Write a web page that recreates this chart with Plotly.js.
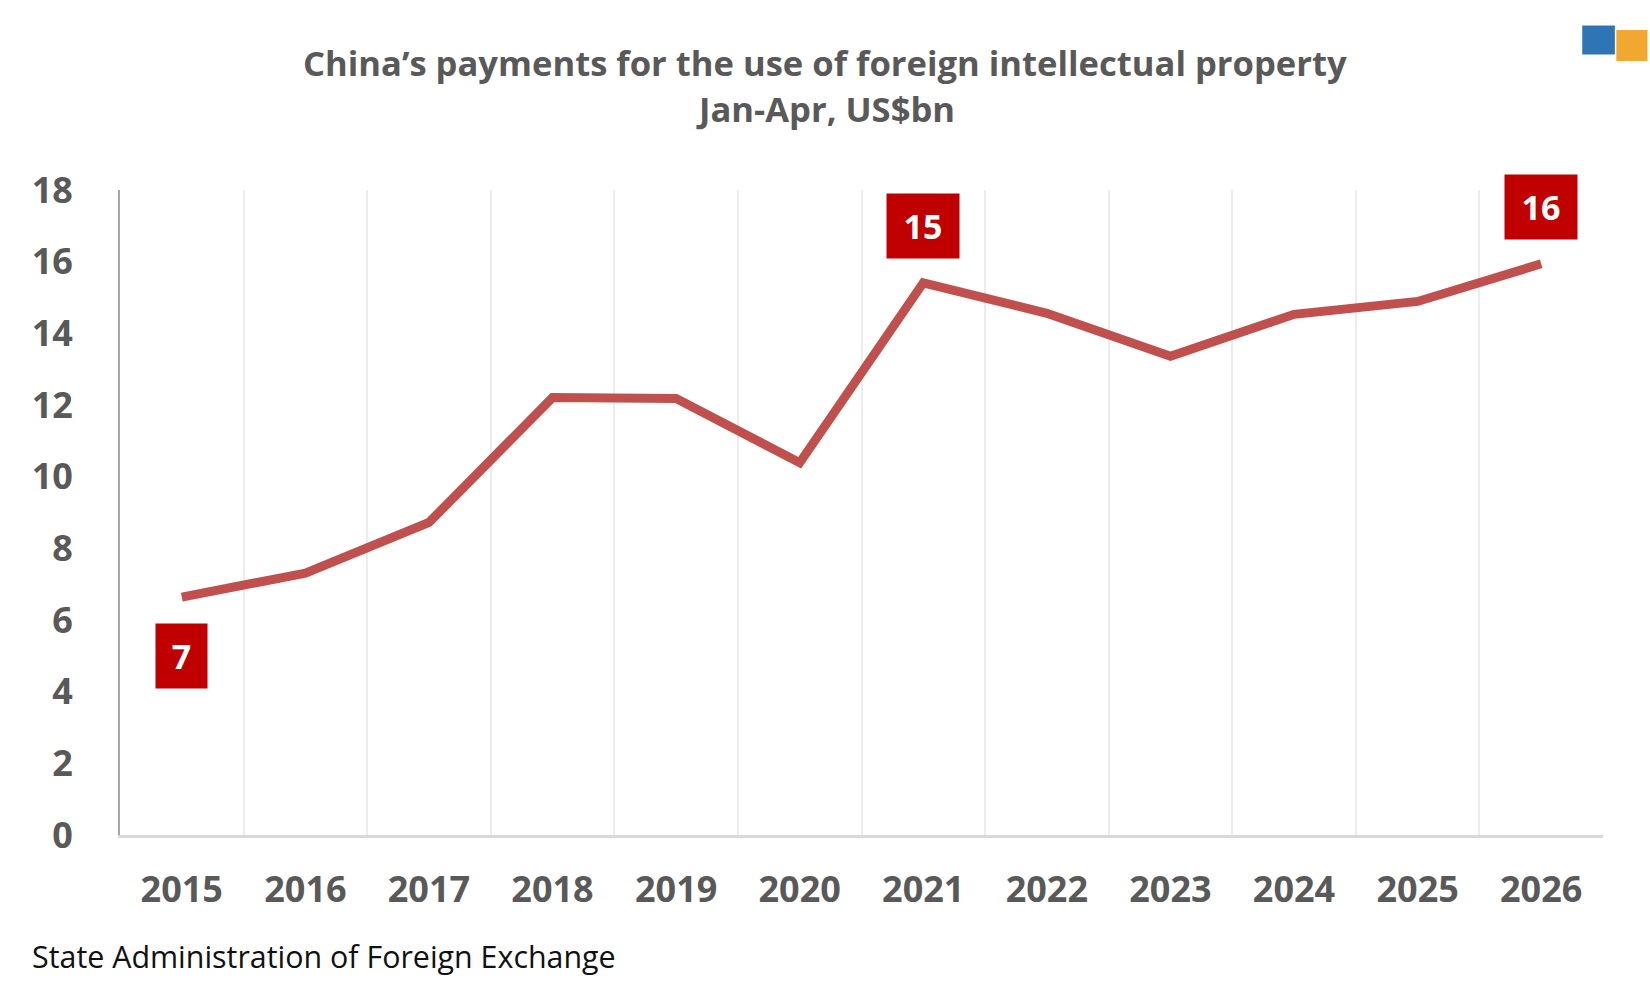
<!DOCTYPE html>
<html>
<head>
<meta charset="utf-8">
<script src="https://cdn.plot.ly/plotly-3.0.1.min.js"></script>
<style>
html,body{margin:0;padding:0;background:#fff;}
#chart{width:1650px;height:991px;}
</style>
</head>
<body>
<div id="chart"></div>
<script>
// Data
const years = ["2015","2016","2017","2018","2019","2020","2021","2022","2023","2024","2025","2026"];
const payments = [6.64, 7.31, 8.72, 12.21, 12.18, 10.39, 15.41, 14.56, 13.36, 14.53, 14.89, 15.94];
const labelledYears = ["2015","2021","2026"];
const labelBelow = ["2015"];
const yTicks = [0,2,4,6,8,10,12,14,16,18];

const titleLine1 = "China\u2019s payments for the use of foreign intellectual property";
const titleLine2 = "Jan-Apr, US$bn";
const sourceText = "State Administration of Foreign Exchange";

const FONT = "'Open Sans', 'Noto Sans', sans-serif";
const GREY = "#595959";

const trace = {
  x: years,
  y: payments,
  type: "scatter",
  mode: "lines",
  line: {color: "#C0504D", width: 9},
  hoverinfo: "skip"
};

const annotations = [];
labelledYears.forEach(yr => {
  const i = years.indexOf(yr);
  const v = payments[i];
  const txt = String(Math.round(v));
  const below = labelBelow.includes(yr);
  annotations.push({
    x: i, y: v, xref: "x", yref: "y",
    text: "<b>" + txt + "</b>",
    showarrow: false,
    font: {family: FONT, size: 34, color: "#ffffff"},
    bgcolor: "#C00000",
    width: txt.length > 1 ? 70 : 49,
    height: 62,
    xanchor: "center",
    yanchor: below ? "top" : "bottom",
    yshift: below ? -26 : 24
  });
});

annotations.push({
  xref: "paper", yref: "paper", x: 0.4754, y: 1,
  xanchor: "center", yanchor: "bottom",
  yshift: 102,
  text: "<b>" + titleLine1 + "</b>",
  showarrow: false,
  font: {family: FONT, size: 34.6, color: GREY}
});
annotations.push({
  xref: "paper", yref: "paper", x: 0.4754, y: 1,
  xanchor: "center", yanchor: "bottom",
  yshift: 56,
  text: "<b>" + titleLine2 + "</b>",
  showarrow: false,
  font: {family: FONT, size: 34.6, color: GREY}
});
annotations.push({
  xref: "paper", yref: "paper", x: -0.061, y: 0,
  xanchor: "left", yanchor: "middle",
  yshift: -121,
  text: sourceText,
  showarrow: false,
  font: {family: FONT, size: 30.4, color: "#111111"}
});

const layout = {
  width: 1650,
  height: 991,
  margin: {l: 120, r: 47, t: 190, b: 156},
  paper_bgcolor: "#ffffff",
  plot_bgcolor: "#ffffff",
  showlegend: false,
  xaxis: {
    type: "category",
    range: [-0.5, years.length - 0.5],
    autorange: false,
    tickson: "boundaries",
    showgrid: true,
    gridcolor: "#ececec",
    gridwidth: 2,
    showline: true,
    linecolor: "#d9d9d9",
    linewidth: 3,
    ticks: "",
    tickangle: 0,
    automargin: false,
    ticklabelstandoff: 21,
    tickfont: {family: FONT, size: 36, color: GREY, weight: "bold"},
    zeroline: false,
    fixedrange: true
  },
  yaxis: {
    range: [0, 18],
    autorange: false,
    tickvals: yTicks,
    ticktext: yTicks.map(String),
    showgrid: false,
    showline: true,
    linecolor: "#a6a6a6",
    linewidth: 2,
    ticks: "",
    automargin: false,
    ticklabelstandoff: 38,
    tickfont: {family: FONT, size: 36, color: GREY, weight: "bold"},
    zeroline: false,
    fixedrange: true
  },
  annotations: annotations,
  shapes: [
    {type: "rect", xref: "paper", yref: "paper", x0: 0.986, x1: 1.008, y0: 1.21, y1: 1.255, fillcolor: "#2E75B6", line: {width: 0}},
    {type: "rect", xref: "paper", yref: "paper", x0: 1.009, x1: 1.03, y0: 1.20, y1: 1.248, fillcolor: "#F0A830", line: {width: 0}}
  ]
};

Plotly.newPlot("chart", [trace], layout, {displayModeBar: false, staticPlot: true});
</script>
</body>
</html>
